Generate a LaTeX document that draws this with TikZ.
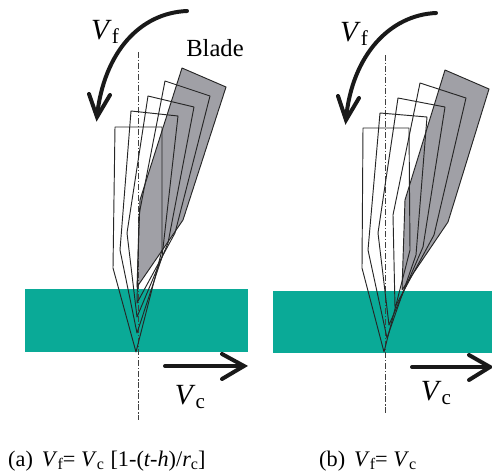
\documentclass[tikz,border=0pt]{standalone}
\usepackage{fontspec}
\setmainfont{Liberation Serif}
\definecolor{stripcol}{HTML}{0AAA97}
\definecolor{bladecol}{HTML}{A0A0A6}
\newcommand{\subtxt}[1]{\raisebox{-.35ex}{\scalebox{.72}{#1}}}
\newcommand{\velsub}[2]{\textit{#1}\subtxt{#2}}
\tikzset{
 blade line/.style={line width=.8pt,black!85,line join=round},
 blade fill/.style={fill=bladecol,draw=none},
 feed arrow/.style={line width=3.4pt,black!90,line cap=round,line join=miter},
 center line/.style={line width=.85pt,black!75,dash pattern=on 5pt off 1.6pt on 1.2pt off 1.6pt},
 vel label/.style={font=\fontsize{25}{28}\selectfont,inner sep=0pt},
 name label/.style={font=\fontsize{21}{24}\selectfont,inner sep=0pt},
 cap label/.style={font=\fontsize{19}{21}\selectfont,inner sep=0pt,anchor=west}
}
\begin{document}
\begin{tikzpicture}[x=.03cm,y=-.03cm]
 \useasboundingbox (0,0) rectangle (492,475);

 % left panel
 \fill[stripcol] (25,289) rectangle (248,352);
 \fill[blade fill] (182,68) -- (226,87) -- (183,220) -- (137,287) -- (140,200) -- cycle;
 \draw[center line] (138,52) -- (138,420);
 \draw[blade line] (115,127) -- (162,127) -- (162,250) -- (136,352) -- (113,268) -- cycle;
 \draw[blade line] (131,111) -- (178,116) -- (162,257) -- (137,333) -- (120,250) -- cycle;
 \draw[blade line] (148,96) -- (194,107) -- (168,243) -- (137,317) -- (127,233) -- cycle;
 \draw[blade line] (165,81) -- (210,96) -- (175,233) -- (137,303) -- (139,215) -- cycle;
 \draw[blade line] (182,68) -- (226,87) -- (183,220) -- (137,287) -- (140,200) -- cycle;

 \draw[feed arrow] (187,11) .. controls (140,13) and (104,52) .. (97,116);
 \draw[feed arrow] (89,94) -- (97,117) -- (110,95);
 \draw[feed arrow] (165,366) -- (243,366);
 \draw[feed arrow] (222,354) -- (244,366) -- (222,379);

 \node[vel label] (vfa) at (105,32) {\velsub{V}{f}};
 \node[name label] (bladelabel) at (215,48) {Blade};
 \node[vel label] (vca) at (190,397) {\velsub{V}{c}};
 \node[cap label] (capa) at (8,461) {(a)\hspace{.4em}\velsub{V}{f}= \velsub{V}{c}\hspace{.3em}[1-(\textit{t-h})/\textit{r}\subtxt{c}]};

 % right panel
 \fill[stripcol] (273,291) rectangle (492,353);
 \fill[blade fill] (445,70) -- (489,89) -- (448,222) -- (402,290) -- (405,200) -- cycle;
 \draw[center line] (385,55) -- (385,414);
 \draw[blade line] (363,128) -- (409,128) -- (410,250) -- (384,352) -- (362,268) -- cycle;
 \draw[blade line] (380,113) -- (427,117) -- (416,255) -- (387,338) -- (368,250) -- cycle;
 \draw[blade line] (398,98) -- (445,107) -- (423,247) -- (389,325) -- (378,233) -- cycle;
 \draw[blade line] (420,83) -- (466,98) -- (434,235) -- (395,307) -- (393,215) -- cycle;
 \draw[blade line] (445,70) -- (489,89) -- (448,222) -- (402,290) -- (405,200) -- cycle;

 \draw[feed arrow] (436,13) .. controls (390,15) and (352,55) .. (346,119);
 \draw[feed arrow] (338,96) -- (346,120) -- (359,98);
 \draw[feed arrow] (412,367) -- (488,367);
 \draw[feed arrow] (469,355) -- (490,367) -- (469,380);

 \node[vel label] (vfb) at (354,34) {\velsub{V}{f}};
 \node[vel label] (vcb) at (436,393) {\velsub{V}{c}};
 \node[cap label] (capb) at (319,461) {(b)\hspace{.4em}\velsub{V}{f}= \velsub{V}{c}};
\end{tikzpicture}
\end{document}
